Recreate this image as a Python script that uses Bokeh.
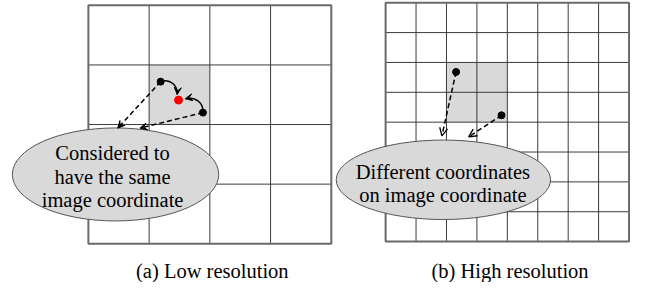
from bokeh.plotting import figure
from bokeh.models import Range1d, Arrow, VeeHead, OpenHead, ColumnDataSource
from bokeh.core.properties import value
from bokeh.embed import file_html
from bokeh.resources import INLINE

# ---- diagram data (grid-cell units) ----
left_cells_n = 4
right_cells_n = 8
left_origin = (91.0, 7.0)        # top-left of left grid
left_size = 246.0
right_origin = (392.0, 4.3)
right_size = 246.5

left_shaded = [(1, 1)]
right_shaded = [(2, 2), (3, 2), (2, 3), (3, 3)]

left_pts_u = [1.19, 1.886]
left_pts_v = [1.28, 1.80]
left_red_u = [1.485]
left_red_v = [1.59]
left_tip_u = [0.483, 0.85]
left_tip_v = [2.06, 2.06]

right_pts_u = [2.315, 3.81]
right_pts_v = [2.318, 3.77]
right_tip_u = [1.85, 2.73]
right_tip_v = [4.46, 4.49]

# curved arrows (start, ctrl1, ctrl2, end) in left-grid units
curve_u = [[1.19, 1.35, 1.475, 1.463], [1.886, 1.90, 1.77, 1.598]]
curve_v = [[1.28, 1.22, 1.35, 1.496], [1.80, 1.64, 1.53, 1.566]]

left_label = ["Considered to", "have the same", "image coordinate"]
right_label = ["Different coordinates", "on image coordinate"]
captions = ["(a) Low resolution", "(b) High resolution"]

FONT = value("Liberation Serif")

p = figure(width=631, height=282, output_backend="svg", toolbar_location=None,
           x_range=Range1d(2, 641), y_range=Range1d(293, 2),
           min_border=0)
p.axis.visible = False
p.grid.visible = False
p.outline_line_color = None
p.background_fill_color = "white"


def conv(origin, size, n, us, vs):
    c = size / n
    return [origin[0] + u * c for u in us], [origin[1] + v * c for v in vs]


def draw_grid(origin, size, n, shaded):
    c = size / n
    x0, y0 = origin
    p.quad(left=[x0 + i * c for i, j in shaded], right=[x0 + (i + 1) * c for i, j in shaded],
           top=[y0 + j * c for i, j in shaded], bottom=[y0 + (j + 1) * c for i, j in shaded],
           fill_color="#d9d9d9", line_color=None)
    xs, ys = [], []
    for k in range(1, n):
        xs.append([x0 + k * c, x0 + k * c]); ys.append([y0, y0 + size])
        xs.append([x0, x0 + size]); ys.append([y0 + k * c, y0 + k * c])
    p.multi_line(xs, ys, line_color="#3a3a3a", line_width=1)
    p.quad(left=[x0], right=[x0 + size], top=[y0], bottom=[y0 + size],
           fill_color=None, line_color="#6a6a6a", line_width=2)


draw_grid(left_origin, left_size, left_cells_n, left_shaded)
draw_grid(right_origin, right_size, right_cells_n, right_shaded)

# ellipses
p.ellipse(x=[118.5], y=[181.5], width=[209], height=[96],
          fill_color="#d9d9d9", line_color="#555555", line_width=1)
p.ellipse(x=[450.5], y=[187.0], width=[217], height=[82],
          fill_color="#d9d9d9", line_color="#555555", line_width=1)

p.text(x=[115.5] * 3, y=[159, 184, 208], text=left_label, text_font=FONT,
       text_font_size="20.5px", text_align="center", text_baseline="middle", text_color="black")
p.text(x=[450] * 2, y=[179, 203], text=right_label, text_font=FONT,
       text_font_size="20.5px", text_align="center", text_baseline="middle", text_color="black")
p.text(x=[216.5, 518], y=[281, 281], text=captions, text_font=FONT,
       text_font_size="20.5px", text_align="center", text_baseline="middle", text_color="black")

# left dashed arrows
lx, ly = conv(left_origin, left_size, left_cells_n, left_pts_u, left_pts_v)
ltx, lty = conv(left_origin, left_size, left_cells_n, left_tip_u, left_tip_v)
p.add_layout(Arrow(end=VeeHead(size=7, fill_color="black", line_color="black"),
                   source=ColumnDataSource(dict(x0=lx, y0=ly, x1=ltx, y1=lty)),
                   x_start="x0", y_start="y0", x_end="x1", y_end="y1",
                   line_dash="5 3", line_width=1.5, line_color="black"))

# right dashed arrows
rx, ry = conv(right_origin, right_size, right_cells_n, right_pts_u, right_pts_v)
rtx, rty = conv(right_origin, right_size, right_cells_n, right_tip_u, right_tip_v)
p.add_layout(Arrow(end=OpenHead(size=8, line_width=1.3, line_color="black"),
                   source=ColumnDataSource(dict(x0=rx, y0=ry, x1=rtx, y1=rty)),
                   x_start="x0", y_start="y0", x_end="x1", y_end="y1",
                   line_dash="5 3", line_width=1.5, line_color="black"))

# curved arrows
for cu, cv in zip(curve_u, curve_v):
    xs, ys = conv(left_origin, left_size, left_cells_n, cu, cv)
    p.bezier(x0=[xs[0]], y0=[ys[0]], cx0=[xs[1]], cy0=[ys[1]], cx1=[xs[2]], cy1=[ys[2]],
             x1=[xs[3]], y1=[ys[3]], line_color="black", line_width=1.5)
    hx = xs[3] - 0.3 * (xs[3] - xs[2])
    hy = ys[3] - 0.3 * (ys[3] - ys[2])
    p.add_layout(Arrow(end=VeeHead(size=7, fill_color="black", line_color="black"),
                       x_start=hx, y_start=hy, x_end=xs[3], y_end=ys[3],
                       line_alpha=0))

# points
p.scatter(lx + rx, ly + ry, size=7, fill_color="black", line_color="black")
rdx, rdy = conv(left_origin, left_size, left_cells_n, left_red_u, left_red_v)
p.scatter(rdx, rdy, size=8, fill_color="#ff0000", line_color="#ff0000")

open("out.html", "w").write(file_html(p, INLINE))
